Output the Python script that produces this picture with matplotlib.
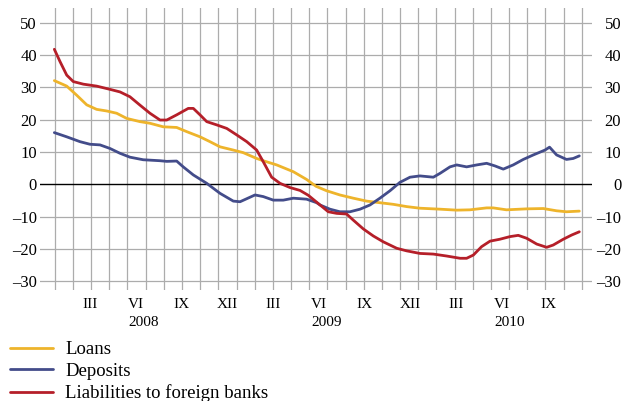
import matplotlib
matplotlib.use("Agg")
import matplotlib.pyplot as plt
from matplotlib.transforms import blended_transform_factory

plt.rcParams["font.family"] = ["Liberation Serif", "DejaVu Serif"]

# =========================
# DATA (x = months counted from January 2008)
# =========================

loans_x = [-0.33, 0.48, 1.13, 1.79, 2.44, 3.10, 3.75, 4.41, 5.28, 5.93, 6.80, 7.68,
           8.34, 9.21, 9.86, 10.52, 11.39, 12.04, 12.92, 13.35, 14.23, 15.32, 16.19,
           16.80, 17.50, 18.37, 19.25, 20.12, 20.99, 21.87, 22.74, 23.61, 24.93, 26.02,
           26.89, 27.98, 28.41, 29.28, 30.60, 31.69, 32.56, 33.21, 34.05]
loans_y = [32.1, 30.4, 27.6, 24.6, 23.2, 22.7, 22.0, 20.4, 19.4, 18.9, 17.8, 17.6,
           16.3, 14.7, 13.2, 11.6, 10.6, 9.8, 8.0, 7.3, 6.0, 3.9, 1.5,
           -0.6, -2.0, -3.3, -4.3, -5.2, -5.7, -6.2, -6.9, -7.4, -7.7, -8.0,
           -7.9, -7.3, -7.3, -7.9, -7.6, -7.5, -8.2, -8.5, -8.3]

deposits_x = [-0.33, 0.48, 1.35, 2.00, 2.66, 3.31, 3.97, 4.62, 5.49, 6.59, 7.03, 7.68,
              8.11, 8.77, 9.65, 10.52, 11.39, 11.83, 12.81, 13.35, 14.01, 14.66, 15.32,
              16.19, 16.85, 17.07, 17.72, 18.37, 19.03, 19.69, 20.34, 20.99, 21.65, 22.30,
              22.96, 23.61, 24.49, 24.93, 25.58, 26.02, 26.67, 27.33, 27.98, 28.52, 29.07,
              29.72, 30.38, 31.04, 31.80, 32.10, 32.56, 33.21, 33.65, 34.05]
deposits_y = [16.0, 14.7, 13.2, 12.4, 12.2, 11.1, 9.6, 8.4, 7.6, 7.3, 7.1, 7.2,
              5.4, 2.9, 0.3, -2.8, -5.2, -5.4, -3.3, -3.8, -4.9, -4.9, -4.3,
              -4.6, -5.7, -6.4, -7.7, -8.5, -8.5, -7.7, -6.4, -4.3, -2.0, 0.6,
              2.2, 2.6, 2.2, 3.4, 5.4, 6.0, 5.4, 6.0, 6.5, 5.7, 4.7,
              6.0, 7.7, 9.1, 10.6, 11.5, 9.1, 7.7, 8.0, 8.8]

liabilities_x = [-0.33, 0.04, 0.48, 0.91, 1.57, 2.44, 3.31, 3.97, 4.62, 5.28, 5.93, 6.59,
                 7.03, 7.68, 8.44, 8.77, 9.21, 9.65, 10.30, 10.96, 11.61, 12.27, 12.92,
                 13.35, 13.90, 14.45, 15.10, 15.76, 16.30, 17.07, 17.61, 18.16, 18.81,
                 19.25, 19.90, 20.56, 21.21, 22.09, 22.74, 23.61, 24.49, 25.36, 26.24,
                 26.67, 27.11, 27.65, 28.20, 28.85, 29.50, 30.05, 30.60, 31.26, 31.91,
                 32.34, 33.00, 33.55, 34.05]
liabilities_y = [41.8, 38.0, 33.8, 31.8, 31.0, 30.4, 29.4, 28.6, 27.1, 24.5, 22.0, 19.9,
                 19.9, 21.5, 23.5, 23.5, 21.5, 19.4, 18.4, 17.3, 15.3, 13.2, 10.6,
                 7.0, 2.2, 0.3, -1.0, -1.9, -3.4, -6.4, -8.5, -9.0, -9.2,
                 -11.1, -13.8, -16.0, -17.8, -19.8, -20.6, -21.4, -21.6, -22.2, -22.9,
                 -22.9, -21.9, -19.3, -17.6, -17.0, -16.2, -15.8, -16.7, -18.5, -19.5,
                 -18.8, -17.0, -15.7, -14.7]

month_ticks = [2, 5, 8, 11, 14, 17, 20, 23, 26, 29, 32]
month_labels = ["III", "VI", "IX", "XII", "III", "VI", "IX", "XII", "III", "VI", "IX"]
year_ticks = [5.5, 17.5, 29.5]
year_labels = ["2008", "2009", "2010"]
y_ticks = [-30, -20, -10, 0, 10, 20, 30, 40, 50]

series_names = ["Loans", "Deposits", "Liabilities to foreign banks"]
series_colors = ["#EEB42B", "#434C8A", "#B51F29"]


def fmt(v):
    # source uses an en dash for negatives
    return f"\u2013{abs(v)}" if v < 0 else f"{v}"


# =========================
# FIGURE
# =========================

W, H = 624, 401
fig = plt.figure(figsize=(W / 100, H / 100), dpi=100)
ax = fig.add_axes([40 / W, 1 - 290 / H, 552 / W, 282 / H])
ax.set_xlim(-1.27, 34.88)
ax.set_ylim(-32.72, 54.58)

for s in ax.spines.values():
    s.set_visible(False)

# vertical grid (every ~1.19 months, as in the source)
for k in range(30):
    ax.axvline(-0.30 + 1.19 * k, color="#acacac", lw=0.9, zorder=1)
for v in y_ticks:
    if v == 0:
        ax.axhline(v, color="black", lw=1.0, zorder=2)
    else:
        ax.axhline(v, color="#acacac", lw=0.9, zorder=1)

lines = []
for xs, ys, name, col in [(loans_x, loans_y, series_names[0], series_colors[0]),
                          (deposits_x, deposits_y, series_names[1], series_colors[1]),
                          (liabilities_x, liabilities_y, series_names[2], series_colors[2])]:
    ln, = ax.plot(xs, ys, color=col, lw=2.0, label=name, zorder=3,
                  solid_joinstyle="round", solid_capstyle="round")
    lines.append(ln)

ax.set_yticks(y_ticks)
ax.set_yticklabels([fmt(v) for v in y_ticks])
ax.tick_params(axis="y", length=0, labelsize=12, pad=2.2)

ax2 = ax.twinx()
ax2.set_ylim(ax.get_ylim())
ax2.set_yticks(y_ticks)
ax2.set_yticklabels([fmt(v) for v in y_ticks])
ax2.tick_params(axis="y", length=0, labelsize=12, pad=21)
for lbl in ax2.get_yticklabels():
    lbl.set_horizontalalignment("right")
for s in ax2.spines.values():
    s.set_visible(False)

ax.set_xticks(month_ticks)
ax.set_xticklabels(month_labels)
ax.tick_params(axis="x", length=0, labelsize=11, pad=5.5)

trans = blended_transform_factory(ax.transData, ax.transAxes)
for pos, lab in zip(year_ticks, year_labels):
    ax.text(pos, -0.1135, lab, transform=trans, ha="center", va="center", fontsize=11)

# subtitle, cut off by the top edge as in the source
fig.text(0.003, 1 + 4.5 / H, "(monthly data, y-o-y change in %, stocks)",
         fontsize=13.5, va="baseline", ha="left")

fig.legend(lines, series_names, loc="upper left", bbox_to_anchor=(10 / W, 1 - 341 / H),
           frameon=False, fontsize=13.5, handlelength=2.3, handletextpad=0.64,
           labelspacing=0.24, borderaxespad=0, borderpad=0)

fig.savefig("out.png", dpi=100)
plt.close(fig)
